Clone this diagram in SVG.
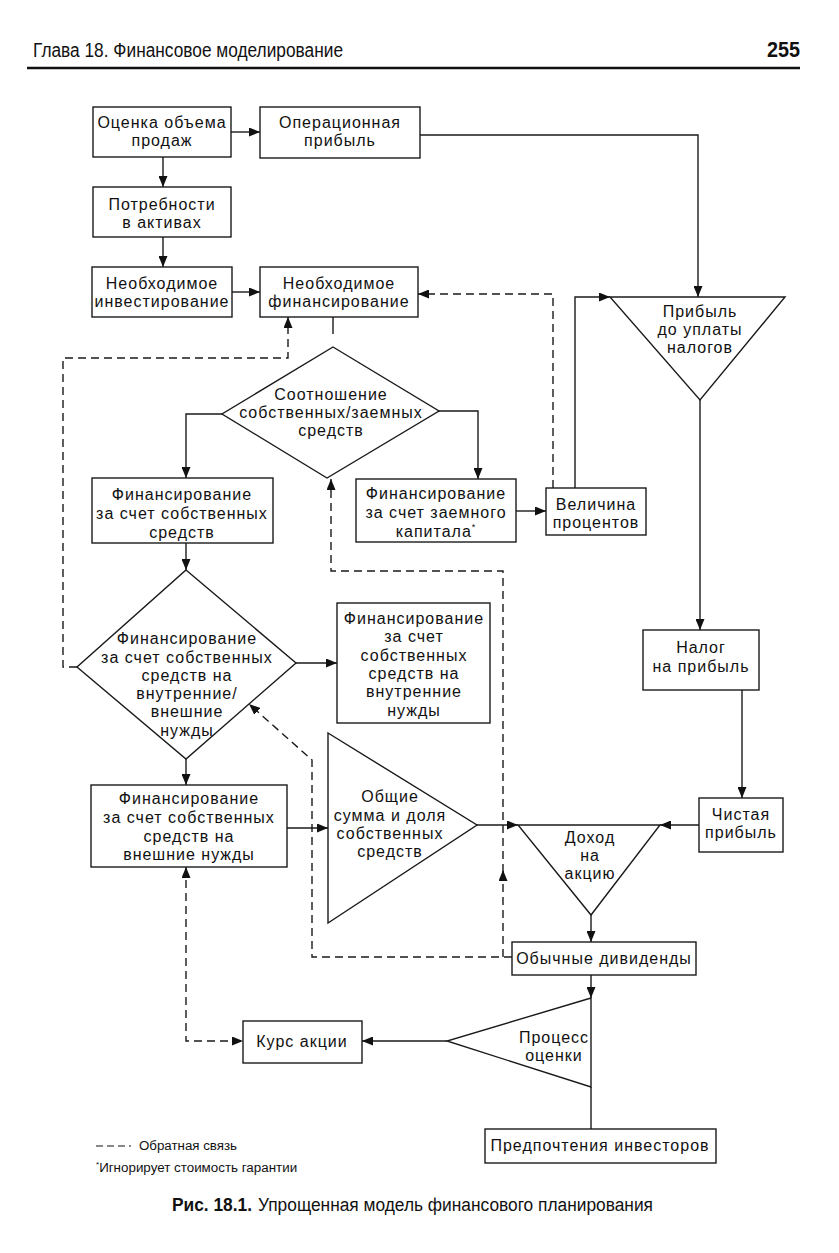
<svg xmlns="http://www.w3.org/2000/svg" width="839" height="1253" viewBox="0 0 839 1253">
<style>
.bg{fill:#fff}
.box{fill:#fff;stroke:#1a1a1a;stroke-width:1.4}
.c{fill:none;stroke:#1a1a1a;stroke-width:1.4}
.d{stroke-dasharray:8 5}
.t{font-family:"Liberation Sans",Arial,sans-serif;font-size:16px;letter-spacing:1px;text-anchor:middle;fill:#111}
.n{font-family:"Liberation Sans",Arial,sans-serif;fill:#111}
</style>
<defs>
<marker id="a" viewBox="0 0 11 9" refX="11" refY="4.5" markerWidth="11" markerHeight="9" markerUnits="userSpaceOnUse" orient="auto-start-reverse">
<path d="M0,0 L11,4.5 L0,9 z" fill="#111"/>
</marker>
</defs>
<rect class="bg" x="0" y="0" width="839" height="1253"/>

<g id="header">
<text class="n" x="33" y="57" font-size="20" textLength="310" lengthAdjust="spacingAndGlyphs">Глава 18. Финансовое моделирование</text>
<text class="n" x="800" y="57" font-size="22" font-weight="bold" text-anchor="end" textLength="33" lengthAdjust="spacingAndGlyphs">255</text>
<line x1="27" y1="68" x2="800" y2="68" stroke="#111" stroke-width="2.5"/>
</g>

<g id="connectors">
<path class="c" d="M231,132 H260" marker-end="url(#a)"/>
<path class="c" d="M163,157 V187" marker-end="url(#a)"/>
<path class="c" d="M163,237 V267" marker-end="url(#a)"/>
<path class="c" d="M232,292 H260" marker-end="url(#a)"/>
<path class="c" d="M333,317 V334"/>
<path class="c" d="M420,135 H698 V297" marker-end="url(#a)"/>
<path class="c" d="M222,414 H186 V478" marker-end="url(#a)"/>
<path class="c" d="M439,411 H478 V479" marker-end="url(#a)"/>
<path class="c" d="M516,511 H546" marker-end="url(#a)"/>
<path class="c" d="M575,488 V297 H610" marker-end="url(#a)"/>
<path class="c" d="M700,400 V630" marker-end="url(#a)"/>
<path class="c" d="M742,690 V798" marker-end="url(#a)"/>
<path class="c" d="M699,825 H660" marker-end="url(#a)"/>
<path class="c" d="M591,915 V942" marker-end="url(#a)"/>
<path class="c" d="M186,543 V570" marker-end="url(#a)"/>
<path class="c" d="M296,663 H337" marker-end="url(#a)"/>
<path class="c" d="M186,759 V785" marker-end="url(#a)"/>
<path class="c" d="M287,828 H328" marker-end="url(#a)"/>
<path class="c" d="M477,825 H518" marker-end="url(#a)"/>
<path class="c" d="M591,975 V998" marker-end="url(#a)"/>
<path class="c" d="M591,1087 V1129"/>
<path class="c" d="M447,1041 H362" marker-end="url(#a)"/>
<path class="c d" d="M553,488 V294 H418" marker-end="url(#a)"/>
<path class="c d" d="M77,667 H63 V358 H288 V317" marker-end="url(#a)"/>
<path class="c d" d="M512,957 H312 V760 L249,704" marker-end="url(#a)"/>
<path class="c d" d="M503,957 V870" marker-end="url(#a)"/>
<path class="c d" d="M503,872 V571 H331 V479" marker-end="url(#a)"/>
<path class="c d" d="M186,867 V1041 H243" marker-start="url(#a)" marker-end="url(#a)"/>
</g>

<g id="n1"><rect class="box" x="93" y="107" width="138" height="50"/>
<text class="t" x="162" y="128">Оценка объема</text><text class="t" x="162" y="146">продаж</text></g>
<g id="n2"><rect class="box" x="260" y="107" width="160" height="51"/>
<text class="t" x="340" y="128">Операционная</text><text class="t" x="340" y="146">прибыль</text></g>
<g id="n3"><rect class="box" x="93" y="187" width="138" height="50"/>
<text class="t" x="162" y="210">Потребности</text><text class="t" x="162" y="228">в активах</text></g>
<g id="n4"><rect class="box" x="92" y="267" width="140" height="50"/>
<text class="t" x="162" y="289">Необходимое</text><text class="t" x="162" y="307">инвестирование</text></g>
<g id="n5"><rect class="box" x="260" y="267" width="158" height="50"/>
<text class="t" x="339" y="289">Необходимое</text><text class="t" x="339" y="307">финансирование</text></g>
<g id="n6"><polygon class="box" points="333,347 439,411 327,478 222,414"/>
<text class="t" x="331" y="400">Соотношение</text><text class="t" x="331" y="418">собственных/заемных</text><text class="t" x="331" y="436">средств</text></g>
<g id="n7"><rect class="box" x="92" y="478" width="181" height="65"/>
<text class="t" x="182" y="500">Финансирование</text><text class="t" x="182" y="519">за счет собственных</text><text class="t" x="182" y="538">средств</text></g>
<g id="n8"><rect class="box" x="356" y="479" width="160" height="63"/>
<text class="t" x="436" y="499">Финансирование</text><text class="t" x="436" y="518">за счет заемного</text><text class="t" x="436" y="537">капитала<tspan font-size="9" dy="-7">*</tspan></text></g>
<g id="n9"><rect class="box" x="546" y="488" width="100" height="47"/>
<text class="t" x="596" y="510">Величина</text><text class="t" x="596" y="528">процентов</text></g>
<g id="n10"><polygon class="box" points="610,297 785,297 700,400"/>
<text class="t" x="700" y="317">Прибыль</text><text class="t" x="700" y="335">до уплаты</text><text class="t" x="700" y="353">налогов</text></g>
<g id="n11"><polygon class="box" points="186,570 296,663 186,759 77,667"/>
<text class="t" x="187" y="644">Финансирование</text><text class="t" x="187" y="663">за счет собственных</text><text class="t" x="187" y="681">средств на</text><text class="t" x="187" y="699">внутренние/</text><text class="t" x="187" y="717">внешние</text><text class="t" x="187" y="736">нужды</text></g>
<g id="n12"><rect class="box" x="337" y="603" width="153" height="120"/>
<text class="t" x="414" y="624">Финансирование</text><text class="t" x="414" y="642">за счет</text><text class="t" x="414" y="661">собственных</text><text class="t" x="414" y="679">средств на</text><text class="t" x="414" y="697">внутренние</text><text class="t" x="414" y="716">нужды</text></g>
<g id="n13"><rect class="box" x="643" y="630" width="116" height="60"/>
<text class="t" x="701" y="653">Налог</text><text class="t" x="701" y="672">на прибыль</text></g>
<g id="n14"><rect class="box" x="91" y="785" width="196" height="82"/>
<text class="t" x="189" y="804">Финансирование</text><text class="t" x="189" y="823">за счет собственных</text><text class="t" x="189" y="842">средств на</text><text class="t" x="189" y="860">внешние нужды</text></g>
<g id="n15"><polygon class="box" points="328,733 477,825 328,923"/>
<text class="t" x="390" y="802">Общие</text><text class="t" x="390" y="821">сумма и доля</text><text class="t" x="390" y="839">собственных</text><text class="t" x="390" y="857">средств</text></g>
<g id="n16"><rect class="box" x="699" y="798" width="84" height="54"/>
<text class="t" x="741" y="820">Чистая</text><text class="t" x="741" y="838">прибыль</text></g>
<g id="n17"><polygon class="box" points="518,825 660,825 591,915"/>
<text class="t" x="590" y="843">Доход</text><text class="t" x="590" y="861">на</text><text class="t" x="590" y="879">акцию</text></g>
<g id="n18"><rect class="box" x="512" y="942" width="184" height="33"/>
<text class="t" x="604" y="964">Обычные дивиденды</text></g>
<g id="n19"><polygon class="box" points="591,998 447,1041 591,1087"/>
<text class="t" x="554" y="1043">Процесс</text><text class="t" x="554" y="1061">оценки</text></g>
<g id="n20"><rect class="box" x="243" y="1021" width="119" height="42"/>
<text class="t" x="302" y="1047">Курс акции</text></g>
<g id="n21"><rect class="box" x="485" y="1129" width="231" height="34"/>
<text class="t" x="600" y="1151">Предпочтения инвесторов</text></g>

<g id="legend">
<line x1="96" y1="1146" x2="131" y2="1146" stroke="#111" stroke-width="1.2" stroke-dasharray="7 4"/>
<text class="n" x="139" y="1150" font-size="12" textLength="98" lengthAdjust="spacingAndGlyphs">Обратная связь</text>
<text class="n" x="96" y="1172" font-size="12"><tspan font-size="8" dy="-5">*</tspan><tspan dy="5" textLength="198" lengthAdjust="spacingAndGlyphs">Игнорирует стоимость гарантии</tspan></text>
</g>

<g id="caption">
<text class="n" x="172" y="1211" font-size="18" font-weight="bold" textLength="80" lengthAdjust="spacingAndGlyphs">Рис. 18.1.</text>
<text class="n" x="258" y="1211" font-size="18" textLength="395" lengthAdjust="spacingAndGlyphs">Упрощенная модель финансового планирования</text>
</g>
</svg>
